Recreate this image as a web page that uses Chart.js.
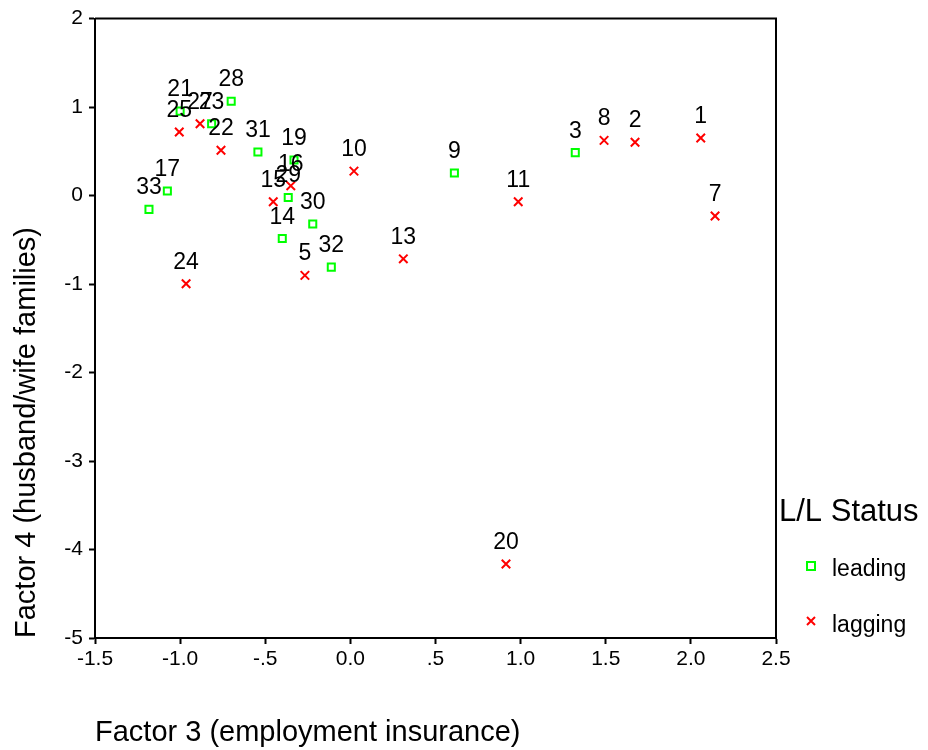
<!DOCTYPE html>
<html>
<head>
<meta charset="utf-8">
<script src="https://cdn.jsdelivr.net/npm/chart.js@4/dist/chart.umd.min.js"></script>
<style>
  body { margin: 0; background: #fff; }
  #chart-box { width: 928px; height: 750px; }
</style>
</head>
<body>
<div id="chart-box"><canvas id="scatterChart" width="928" height="750"></canvas></div>
<script>
// Dados
const leadingIds = ['28', '21', '23', '31', '19', '17', '33', '29', '30', '14', '32', '9', '3'];
const leadingX = [-0.70, -1.00, -0.815, -0.543, -0.331, -1.075, -1.183, -0.365, -0.221, -0.400, -0.112, 0.611, 1.321];
const leadingY = [1.066, 0.954, 0.811, 0.493, 0.403, 0.051, -0.156, -0.021, -0.321, -0.486, -0.809, 0.256, 0.485];

const laggingIds = ['25', '27', '22', '16', '15', '24', '5', '13', '10', '11', '8', '2', '1', '7', '20'];
const laggingX = [-1.005, -0.883, -0.760, -0.350, -0.453, -0.965, -0.267, 0.311, 0.021, 0.986, 1.490, 1.672, 2.058, 2.142, 0.914];
const laggingY = [0.718, 0.811, 0.512, 0.110, -0.070, -0.996, -0.902, -0.715, 0.276, -0.070, 0.624, 0.602, 0.650, -0.231, -4.164];

const xTicks = [-1.5, -1.0, -0.5, 0.0, 0.5, 1.0, 1.5, 2.0, 2.5];
const yTicks = [2, 1, 0, -1, -2, -3, -4, -5];
const groupNames = ['leading', 'lagging'];

const FONT = '"Liberation Sans", Arial, sans-serif';

function toPoints(xs, ys, ids) {
    return xs.map((x, i) => ({ x: x, y: ys[i], id: ids[i] }));
}

function formatX(v) {
    if (Math.abs(v) < 1e-9) return '0.0';
    if (Math.abs(v) < 1) return (v < 0 ? '-' : '') + '.5';
    return v.toFixed(1);
}

// Rótulos dos casos acima de cada ponto
const pointLabels = {
    id: 'pointLabels',
    afterDatasetsDraw(chart) {
        const ctx = chart.ctx;
        ctx.save();
        ctx.font = '23px ' + FONT;
        ctx.fillStyle = '#000';
        ctx.textAlign = 'center';
        ctx.textBaseline = 'alphabetic';
        chart.data.datasets.forEach((ds, i) => {
            chart.getDatasetMeta(i).data.forEach((el, j) => {
                ctx.fillText(ds.data[j].id, el.x, el.y - 15);
            });
        });
        ctx.restore();
    }
};

// Moldura e legenda
const frameAndLegend = {
    id: 'frameAndLegend',
    afterDraw(chart) {
        const ctx = chart.ctx;
        const a = chart.chartArea;
        ctx.save();
        ctx.strokeStyle = '#000';
        ctx.lineWidth = 2;
        ctx.beginPath();
        ctx.moveTo(a.left, a.top);
        ctx.lineTo(a.right, a.top);
        ctx.lineTo(a.right, a.bottom);
        ctx.stroke();

        ctx.fillStyle = '#000';
        ctx.textAlign = 'left';
        ctx.textBaseline = 'middle';
        ctx.font = '31px ' + FONT;
        ctx.fillText('L/L Status', 779, 512);

        ctx.font = '23px ' + FONT;
        ctx.fillText(groupNames[0], 832, 570);
        ctx.fillText(groupNames[1], 832, 626);

        ctx.lineWidth = 2;
        ctx.strokeStyle = '#00ff00';
        ctx.strokeRect(807, 562, 8, 8);
        ctx.strokeStyle = '#ff0000';
        ctx.beginPath();
        ctx.moveTo(807, 617); ctx.lineTo(815, 625);
        ctx.moveTo(815, 617); ctx.lineTo(807, 625);
        ctx.stroke();
        ctx.restore();
    }
};

const ctx = document.getElementById('scatterChart').getContext('2d');
new Chart(ctx, {
    type: 'scatter',
    data: {
        datasets: [{
            label: groupNames[0],
            data: toPoints(leadingX, leadingY, leadingIds),
            pointStyle: 'rect',
            pointRadius: 5,
            borderColor: '#00ff00',
            backgroundColor: 'rgba(0,0,0,0)',
            borderWidth: 2
        }, {
            label: groupNames[1],
            data: toPoints(laggingX, laggingY, laggingIds),
            pointStyle: 'crossRot',
            pointRadius: 6,
            borderColor: '#ff0000',
            backgroundColor: '#ff0000',
            borderWidth: 2
        }]
    },
    options: {
        responsive: false,
        animation: false,
        layout: { padding: { left: 0, right: 152, top: 16, bottom: 0 } },
        plugins: {
            legend: { display: false },
            tooltip: { enabled: false }
        },
        scales: {
            x: {
                type: 'linear',
                min: -1.5,
                max: 2.5,
                afterBuildTicks: (scale) => { scale.ticks = xTicks.map(v => ({ value: v })); },
                afterFit: (scale) => { scale.height = 112; },
                ticks: {
                    color: '#000',
                    font: { family: FONT, size: 21 },
                    padding: 3,
                    maxRotation: 0,
                    callback: (v) => formatX(v)
                },
                grid: { drawOnChartArea: false, tickLength: 6, tickWidth: 2, tickColor: '#000' },
                border: { color: '#000', width: 2 },
                title: {
                    display: true,
                    text: 'Factor 3 (employment insurance)',
                    align: 'start',
                    color: '#000',
                    font: { family: FONT, size: 29 },
                    padding: { top: 0, bottom: 0 }
                }
            },
            y: {
                type: 'linear',
                min: -5,
                max: 2,
                afterBuildTicks: (scale) => { scale.ticks = yTicks.map(v => ({ value: v })); },
                afterFit: (scale) => { scale.width = 95; },
                ticks: {
                    color: '#000',
                    font: { family: FONT, size: 21 },
                    padding: 6
                },
                grid: { drawOnChartArea: false, tickLength: 6, tickWidth: 2, tickColor: '#000' },
                border: { color: '#000', width: 2 },
                title: {
                    display: true,
                    text: 'Factor 4 (husband/wife families)',
                    align: 'start',
                    color: '#000',
                    font: { family: FONT, size: 29 },
                    padding: { top: 10, bottom: 0 }
                }
            }
        }
    },
    plugins: [pointLabels, frameAndLegend]
});
</script>
</body>
</html>
